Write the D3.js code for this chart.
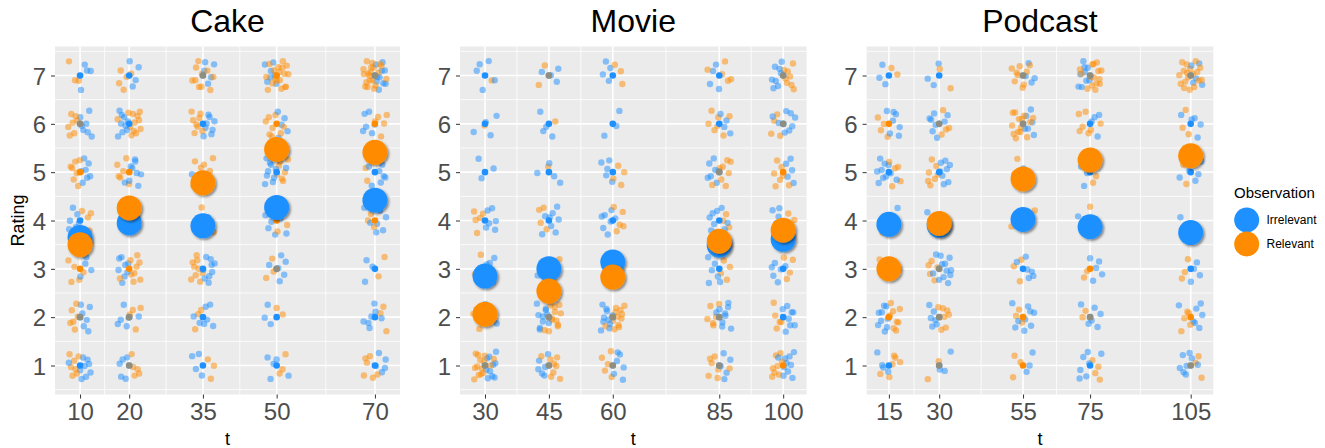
<!DOCTYPE html>
<html>
<head>
<meta charset="utf-8">
<script src="https://cdn.jsdelivr.net/npm/d3@7"></script>
<style>
  body { margin: 0; background: #fff; }
  text { font-family: "Liberation Sans", Arial, sans-serif; }
</style>
</head>
<body>
<svg id="chart" width="1325" height="448"></svg>
<script>
const panelNames = ["Cake", "Movie", "Podcast"]
const ratings = [1, 2, 3, 4, 5, 6, 7]

const cakeT = [10, 20, 35, 50, 70]
const movieT = [30, 45, 60, 85, 100]
const podcastT = [15, 30, 55, 75, 105]

// mean rating per t (big circles)
const cakeIrrelevant = [3.65, 3.95, 3.89, 4.27, 4.42]
const cakeRelevant = [3.50, 4.26, 4.78, 5.47, 5.41]
const movieIrrelevant = [2.85, 3.00, 3.14, 3.49, 3.61]
const movieRelevant = [2.06, 2.54, 2.83, 3.57, 3.80]
const podcastIrrelevant = [3.92, 3.90, 4.02, 3.87, 3.75]
const podcastRelevant = [3.00, 3.94, 4.86, 5.25, 5.34]

// number of jittered observations per t (rows) and rating 1..7 (columns)
const cakeIrrelevantCounts = [[9,6,4,6,7,7,4],[5,6,8,2,9,9,4],[4,7,9,1,2,8,5],[5,3,6,8,10,5,7],[5,7,3,7,8,6,10]]
const cakeRelevantCounts = [[7,6,5,5,7,7,3],[5,4,9,2,6,12,5],[3,3,9,2,7,8,10],[3,2,3,2,7,8,18],[6,3,2,3,3,5,20]]
const movieIrrelevantCounts = [[10,3,6,6,3,4,5],[6,10,3,8,4,4,4],[6,10,0,7,5,3,4],[5,9,6,9,7,4,4],[10,8,6,6,5,9,8]]
const movieRelevantCounts = [[14,3,4,5,0,1,1],[8,12,2,4,1,1,2],[5,12,0,5,4,0,3],[7,6,4,3,8,7,5],[8,5,4,3,7,4,8]]
const podcastIrrelevantCounts = [[4,9,2,1,10,7,3],[3,6,12,1,8,8,3],[3,9,6,1,1,6,4],[7,6,5,1,3,4,9],[8,7,4,1,6,5,5]]
const podcastRelevantCounts = [[6,8,2,2,5,4,2],[2,7,5,2,7,4,2],[3,3,3,2,3,14,9],[4,2,2,1,2,7,15],[3,5,3,0,2,3,18]]

// colour of the stacked un-jittered point at each t / rating 1..7 (b blue, o orange, g both, n none)
const cakeCenters = ["bgobogb", "ggobobb", "bbbnnbg", "bbgoboo", "bbbobog"]
const movieCenters = ["gnnbbbb", "ggnbbbg", "ggnbbbb", "ggbbgbb", "obbnogg"]
const podcastCenters = ["bonnbob", "gggnbgb", "oobnngg", "bgonbbg", "gobnbbg"]

const groups = ["Irrelevant", "Relevant"]
const colors = { Irrelevant: "#1E90FF", Relevant: "#FF8C00" }

const panels = [
  { name: panelNames[0], t: cakeT, means: [cakeIrrelevant, cakeRelevant], counts: [cakeIrrelevantCounts, cakeRelevantCounts], centers: cakeCenters, x0: 55, x1: 400, domain: [4.9, 75.1] },
  { name: panelNames[1], t: movieT, means: [movieIrrelevant, movieRelevant], counts: [movieIrrelevantCounts, movieRelevantCounts], centers: movieCenters, x0: 460, x1: 806.6, domain: [24.13, 105.5] },
  { name: panelNames[2], t: podcastT, means: [podcastIrrelevant, podcastRelevant], counts: [podcastIrrelevantCounts, podcastRelevantCounts], centers: podcastCenters, x0: 866.6, x1: 1213.3, domain: [8.35, 111.74] }
]

const panelTop = 46.5, panelBottom = 394.5
const svg = d3.select("#chart")

const defs = svg.append("defs")
defs.append("filter").attr("id", "shadow")
  .attr("x", "-50%").attr("y", "-50%").attr("width", "200%").attr("height", "200%")
  .append("feDropShadow")
  .attr("dx", 1.6).attr("dy", 1.6).attr("stdDeviation", 1.3)
  .attr("flood-color", "#000").attr("flood-opacity", 0.45)

// low discrepancy sequence used to spread the jittered points
const halton = function(i, b) {
  let f = 1, r = 0
  while (i > 0) { f = f / b; r += f * (i % b); i = Math.floor(i / b) }
  return r
}
let k = 1

const y = d3.scaleLinear().domain([0.4, 7.6]).range([panelBottom, panelTop])

panels.forEach(function(p) {
  const x = d3.scaleLinear().domain(p.domain).range([p.x0, p.x1])
  const g = svg.append("g")

  g.append("rect")
    .attr("x", p.x0).attr("y", panelTop)
    .attr("width", p.x1 - p.x0).attr("height", panelBottom - panelTop)
    .attr("fill", "#EBEBEB")

  // minor grid
  const minorX = d3.pairs(p.t).map(d => (d[0] + d[1]) / 2)
  const minorY = d3.range(0.5, 8, 1)
  g.append("g").selectAll("line").data(minorX).join("line")
    .attr("x1", d => x(d)).attr("x2", d => x(d))
    .attr("y1", panelTop).attr("y2", panelBottom)
    .attr("stroke", "#fff").attr("stroke-width", 0.8)
  g.append("g").selectAll("line").data(minorY).join("line")
    .attr("y1", d => y(d)).attr("y2", d => y(d))
    .attr("x1", p.x0).attr("x2", p.x1)
    .attr("stroke", "#fff").attr("stroke-width", 0.8)
  // major grid
  g.append("g").selectAll("line").data(p.t).join("line")
    .attr("x1", d => x(d)).attr("x2", d => x(d))
    .attr("y1", panelTop).attr("y2", panelBottom)
    .attr("stroke", "#fff").attr("stroke-width", 1.6)
  g.append("g").selectAll("line").data(ratings).join("line")
    .attr("y1", d => y(d)).attr("y2", d => y(d))
    .attr("x1", p.x0).attr("x2", p.x1)
    .attr("stroke", "#fff").attr("stroke-width", 1.6)

  // jittered observations
  const pts = []
  p.t.forEach(function(tv, ti) {
    ratings.forEach(function(r, ri) {
      const nb = p.counts[0][ti][ri], no = p.counts[1][ti][ri]
      const n = Math.max(nb, no)
      for (let j = 0; j < n; j++) {
        if (j < nb) { pts.push({ t: tv, r: r, g: "Irrelevant", dx: (halton(k, 2) * 2 - 1) * 12, dy: (halton(k, 3) * 2 - 1) * 0.3 }); k++ }
        if (j < no) { pts.push({ t: tv, r: r, g: "Relevant", dx: (halton(k, 2) * 2 - 1) * 12, dy: (halton(k, 3) * 2 - 1) * 0.3 }); k++ }
      }
    })
  })
  g.append("g").selectAll("circle").data(pts).join("circle")
    .attr("cx", d => x(d.t) + d.dx)
    .attr("cy", d => y(d.r + d.dy))
    .attr("r", 3.2)
    .attr("fill", d => colors[d.g])
    .attr("fill-opacity", 0.5)

  // stacked un-jittered points
  const cen = []
  p.t.forEach(function(tv, ti) {
    ratings.forEach(function(r, ri) {
      const c = p.centers[ti][ri]
      if (c == "b" || c == "g") cen.push({ t: tv, r: r, fill: colors.Irrelevant, op: 1 })
      if (c == "o") cen.push({ t: tv, r: r, fill: colors.Relevant, op: 1 })
      if (c == "g") cen.push({ t: tv, r: r, fill: colors.Relevant, op: 0.5 })
    })
  })
  g.append("g").selectAll("circle").data(cen).join("circle")
    .attr("cx", d => x(d.t)).attr("cy", d => y(d.r))
    .attr("r", 3.3)
    .attr("fill", d => d.fill).attr("fill-opacity", d => d.op)

  // means
  groups.forEach(function(gr, gi) {
    g.append("g").selectAll("circle").data(p.t).join("circle")
      .attr("cx", d => x(d))
      .attr("cy", (d, i) => y(p.means[gi][i]))
      .attr("r", 12.5)
      .attr("fill", colors[gr])
      .attr("filter", "url(#shadow)")
  })

  // axes
  const yAxis = g.append("g")
    .attr("transform", `translate(${p.x0},0)`)
    .call(d3.axisLeft(y).tickValues(ratings).tickSize(4).tickPadding(5))
  const xAxis = g.append("g")
    .attr("transform", `translate(0,${panelBottom})`)
    .call(d3.axisBottom(x).tickValues(p.t).tickSize(4).tickPadding(4))
  ;[yAxis, xAxis].forEach(function(a) {
    a.select(".domain").remove()
    a.selectAll(".tick line").attr("stroke", "#333").attr("stroke-width", 1)
    a.selectAll(".tick text").attr("fill", "#4D4D4D")
      .style("font-size", "24px").style("font-family", "'Liberation Sans', Arial, sans-serif")
  })
  yAxis.selectAll(".tick text").attr("dy", "0.36em")
  xAxis.selectAll(".tick text").attr("dy", "0.72em")

  g.append("text")
    .attr("x", (p.x0 + p.x1) / 2).attr("y", 32)
    .attr("text-anchor", "middle")
    .style("font-size", "32px").attr("fill", "#000")
    .text(p.name)

  g.append("text")
    .attr("x", (p.x0 + p.x1) / 2).attr("y", 445)
    .attr("text-anchor", "middle")
    .style("font-size", "18px").attr("fill", "#000")
    .text("t")
})

svg.append("text")
  .attr("transform", `translate(24,${(panelTop + panelBottom) / 2}) rotate(-90)`)
  .attr("text-anchor", "middle")
  .style("font-size", "18px").attr("fill", "#000")
  .text("Rating")

// legend
const legend = svg.append("g").attr("transform", "translate(1234,0)")
legend.append("text")
  .attr("x", 0).attr("y", 198)
  .style("font-size", "15px").attr("fill", "#000")
  .text("Observation")
const items = legend.selectAll(".item").data(groups).join("g")
  .attr("transform", (d, i) => `translate(0,${220 + i * 24})`)
items.append("circle")
  .attr("cx", 12.7).attr("cy", 0).attr("r", 12.5)
  .attr("fill", d => colors[d])
items.append("text")
  .attr("x", 32.5).attr("y", 4.3)
  .style("font-size", "12px").attr("fill", "#000")
  .text(d => d)
</script>
</body>
</html>
